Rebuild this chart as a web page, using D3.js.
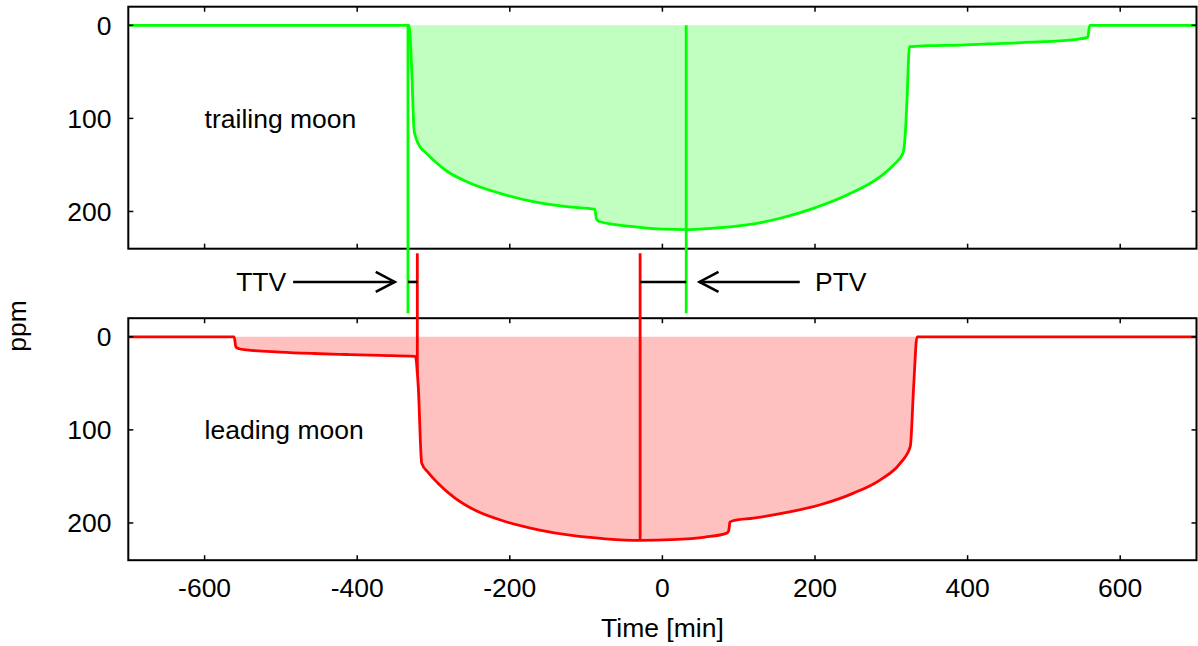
<!DOCTYPE html>
<html><head><meta charset="utf-8">
<script src="https://cdn.jsdelivr.net/npm/d3@7"></script>
<style>
body{margin:0;background:#fff}
svg{display:block}
text{font-family:"Liberation Sans",Arial,Helvetica,sans-serif;font-size:26.5px;fill:#000}
</style>
</head><body><svg id="c" width="1198" height="646"></svg>
<script>
// ---------- data ----------
const timeDomain = [-700, 700];
const ppmDomain = [-20, 240];
const xTicks = [-600, -400, -200, 0, 200, 400, 600];
const yTicks = [0, 100, 200];

// trailing moon (green) light curve: time [min], depth [ppm]
const trailingTime = [-700, -332, -328.5, -325.5, -323, -317.7, -310, -300.3, -281.3, -256.5, -212.8, -169.1, -125.3, -88.5, -86.5, -83, -38, 0, 30, 67, 110.8, 154.4, 198, 242, 285.6, 303, 315.3, 318.4, 320.6, 323.8, 346.8, 390.5, 447, 499.7, 543.5, 557.5, 560, 700];
const trailingPpm  = [0, 0, 50, 112, 121, 130.4, 137, 144.7, 157.3, 168, 180.5, 189.5, 194.8, 197.7, 208, 210.8, 216.3, 219, 219.5, 218, 214.5, 207.3, 196.6, 182.3, 162.6, 150, 137.5, 116, 80, 23, 21.9, 21.2, 19.3, 17.6, 15, 12.9, 0, 0];

// leading moon (red) light curve
const leadingTime = [-700, -561.3, -559, -555, -545, -501, -457.6, -413.8, -370, -323.8, -320, -315.5, -306.8, -294.5, -271.8, -249.9, -206.2, -162.5, -118.8, -75, -29.2, 12.4, 56, 84.5, 87, 88.5, 93, 119.4, 163.2, 206.9, 250.6, 285.6, 311.8, 324.9, 329.3, 333.7, 700];
const leadingPpm  = [0, 0, 11, 12.8, 14, 16.4, 17.9, 19, 20, 21.1, 53, 135.7, 146, 157, 173.3, 184.5, 198.4, 207.3, 213.4, 217, 218.8, 218, 215.2, 210.9, 208, 199, 197.5, 194.8, 188.7, 180.4, 167.9, 153.6, 135.7, 117.8, 53.4, 0, 0];

// timing markers
const trailingMarkerTime = [-333.5, 31.2];   // TTV, PTV reference (green)
const leadingMarkerTime  = [-321.2, -29.2];  // TTV, PTV reference (red)
const leadingMarkerDepth = [40, 218.8];

const panelLabels = ["trailing moon", "leading moon"];
const labelTime = -600, labelPpm = 100;

// annotation arrows (time units)
const annNames = ["TTV", "PTV"];
const annTextTime = [-493, 200];
const annArrowFrom = [-484, 180];
const annArrowTo = [-350.8, 48.6];

// ---------- layout ----------
const svg = d3.select("#c");
const L = 128.3, R = 1196.5;
const topPanel = [6.7, 248.7];
const botPanel = [318.2, 560.2];

const x = d3.scaleLinear().domain(timeDomain).range([L, R]);
const yT = d3.scaleLinear().domain(ppmDomain).range(topPanel);
const yB = d3.scaleLinear().domain(ppmDomain).range(botPanel);

function drawPanel(y, times, ppms, lineCol, fillCol, label, showX) {
  const g = svg.append("g");
  const data = times.map((t, i) => [t, ppms[i]]);
  g.append("path").datum(data)
    .attr("d", d3.area().curve(d3.curveMonotoneX).x(d => x(d[0])).y0(y(0)).y1(d => y(d[1])))
    .attr("fill", fillCol).attr("stroke", "none");
  g.append("path").datum(data)
    .attr("d", d3.line().curve(d3.curveMonotoneX).x(d => x(d[0])).y(d => y(d[1])))
    .attr("fill", "none").attr("stroke", lineCol).attr("stroke-width", 2.8)
    .attr("stroke-linejoin", "round");
  // frame
  const [y0, y1] = y.range();
  g.append("rect").attr("x", L).attr("y", y0).attr("width", R - L).attr("height", y1 - y0)
    .attr("fill", "none").attr("stroke", "#000").attr("stroke-width", 2);
  // ticks
  const tl = 5;
  xTicks.forEach(t => {
    g.append("line").attr("x1", x(t)).attr("x2", x(t)).attr("y1", y1).attr("y2", y1 - tl).attr("stroke", "#000").attr("stroke-width", 1.5);
    g.append("line").attr("x1", x(t)).attr("x2", x(t)).attr("y1", y0).attr("y2", y0 + tl).attr("stroke", "#000").attr("stroke-width", 1.5);
    if (showX) g.append("text").attr("x", x(t)).attr("y", y1 + 37).attr("text-anchor", "middle").text(t);
  });
  yTicks.forEach(v => {
    g.append("line").attr("x1", L).attr("x2", L + tl).attr("y1", y(v)).attr("y2", y(v)).attr("stroke", "#000").attr("stroke-width", 1.5);
    g.append("line").attr("x1", R).attr("x2", R - tl).attr("y1", y(v)).attr("y2", y(v)).attr("stroke", "#000").attr("stroke-width", 1.5);
    g.append("text").attr("x", 111.5).attr("y", y(v)).attr("dy", "0.35em").attr("text-anchor", "end").text(v);
  });
  g.append("text").attr("x", x(labelTime)).attr("y", y(labelPpm)).attr("dy", "0.35em").text(label);
}

drawPanel(yT, trailingTime, trailingPpm, "#00ff00", "#c0ffc0", panelLabels[0], false);
drawPanel(yB, leadingTime, leadingPpm, "#ff0000", "#ffc0c0", panelLabels[1], true);

// marker band between panels
const bandTop = topPanel[1] + 4.6, bandBot = botPanel[0] - 4.9;
const bandMid = (topPanel[1] + botPanel[0]) / 2 - 1.5;

trailingMarkerTime.forEach(t => {
  svg.append("line").attr("x1", x(t)).attr("x2", x(t)).attr("y1", yT(0)).attr("y2", bandBot)
    .attr("stroke", "#00ff00").attr("stroke-width", 2.8);
});
leadingMarkerTime.forEach((t, i) => {
  svg.append("line").attr("x1", x(t)).attr("x2", x(t)).attr("y1", bandTop).attr("y2", yB(leadingMarkerDepth[i]))
    .attr("stroke", "#ff0000").attr("stroke-width", 2.8);
});
// offset bars
[0, 1].forEach(i => {
  const a = trailingMarkerTime[i], b = leadingMarkerTime[i];
  svg.append("line").attr("x1", x(Math.min(a, b))).attr("x2", x(Math.max(a, b)))
    .attr("y1", bandMid).attr("y2", bandMid).attr("stroke", "#000").attr("stroke-width", 2.6);
});
// arrows + labels
annNames.forEach((n, i) => {
  const x0 = x(annArrowFrom[i]), x1 = x(annArrowTo[i]);
  const dir = Math.sign(x1 - x0);
  svg.append("line").attr("x1", x0).attr("x2", x1).attr("y1", bandMid).attr("y2", bandMid)
    .attr("stroke", "#000").attr("stroke-width", 2.6);
  const hl = 19, hw = 10;
  svg.append("path")
    .attr("d", d3.line()([[x1 - dir * hl, bandMid - hw], [x1, bandMid], [x1 - dir * hl, bandMid + hw]]))
    .attr("fill", "none").attr("stroke", "#000").attr("stroke-width", 2.6).attr("stroke-linejoin", "miter");
  svg.append("text").attr("x", x(annTextTime[i])).attr("y", bandMid).attr("dy", "0.35em")
    .attr("text-anchor", dir > 0 ? "end" : "start").text(n);
});

// axis titles
svg.append("text").attr("x", (L + R) / 2).attr("y", 637).attr("text-anchor", "middle").text("Time [min]");
svg.append("text").attr("transform", "translate(26,326) rotate(-90)").attr("text-anchor", "middle").text("ppm");
</script>
</body></html>
